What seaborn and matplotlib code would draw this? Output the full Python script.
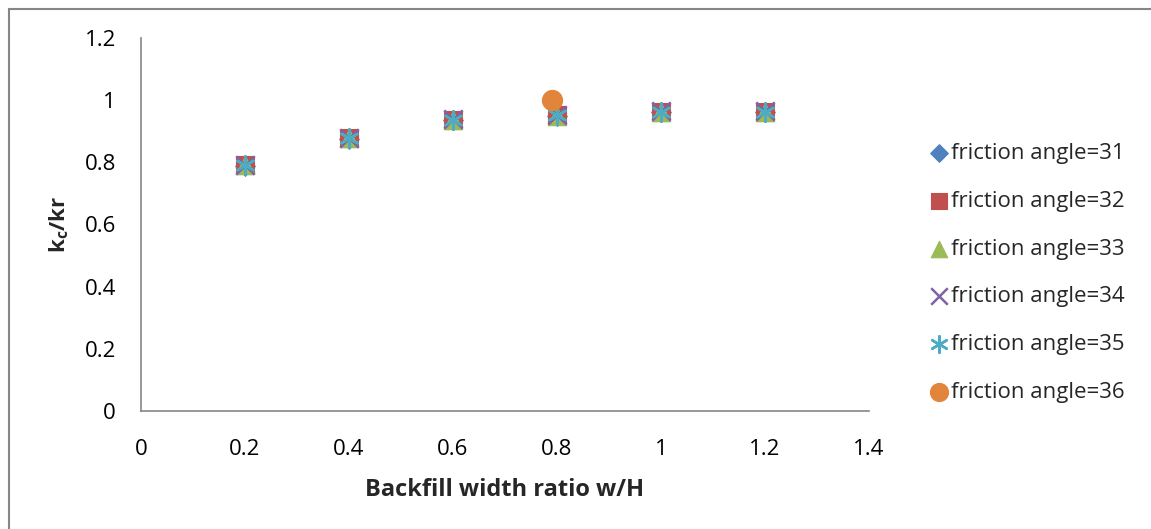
import numpy as np
import pandas as pd
import matplotlib
matplotlib.use('Agg')
import matplotlib.pyplot as plt
import seaborn as sns
from matplotlib.lines import Line2D

# --- Datos ---
w_ratio = [0.2, 0.4, 0.6, 0.8, 1.0, 1.2]
k31 = [0.788, 0.876, 0.936, 0.950, 0.962, 0.962]
k32 = [0.790, 0.878, 0.937, 0.951, 0.963, 0.963]
k33 = [0.790, 0.877, 0.936, 0.950, 0.962, 0.962]
k34 = [0.791, 0.879, 0.938, 0.952, 0.964, 0.964]
k35 = [0.790, 0.878, 0.937, 0.951, 0.962, 0.962]
w36 = [0.79]
k36 = [1.0]

labels = ['friction angle=31', 'friction angle=32', 'friction angle=33',
          'friction angle=34', 'friction angle=35', 'friction angle=36']
colors = ['#4F81BD', '#C0504D', '#9BBB59', '#8064A2', '#4BACC6', '#E2853A']

sns.set_style('white')
plt.rcParams['font.family'] = ['Open Sans', 'DejaVu Sans']
plt.rcParams['mathtext.fontset'] = 'custom'
plt.rcParams['mathtext.rm'] = 'Open Sans'
plt.rcParams['mathtext.bf'] = 'Open Sans:bold'

fig = plt.figure(figsize=(11.51, 5.29), dpi=100)
ax = fig.add_axes([0.1225, 0.2231, 0.6325, 0.7051])

series = [
    (w_ratio, k31, 'D', 100),
    (w_ratio, k32, 's', 175),
    (w_ratio, k33, '^', 175),
    (w_ratio, k34, 'x', 175),
    (w_ratio, k35, (6, 2, 0), 175),
    (w36, k36, 'o', 210),
]

for (xs, ys, mk, sz), lab, col in zip(series, labels, colors):
    df = pd.DataFrame({'w': xs, 'k': ys})
    if mk == 'x' or isinstance(mk, tuple):
        sns.scatterplot(data=df, x='w', y='k', marker=mk, s=sz, color=col,
                        linewidth=1.8, label=lab, ax=ax)
    else:
        sns.scatterplot(data=df, x='w', y='k', marker=mk, s=sz, color=col,
                        edgecolor=col, linewidth=0.8, label=lab, ax=ax)

ax.set_xlim(0, 1.4)
ax.set_ylim(0, 1.2)
ax.set_xticks(np.arange(0, 1.41, 0.2))
ax.set_yticks(np.arange(0, 1.21, 0.2))
ax.set_xticklabels(['0', '0.2', '0.4', '0.6', '0.8', '1', '1.2', '1.4'])
ax.set_yticklabels(['0', '0.2', '0.4', '0.6', '0.8', '1', '1.2'])

for s in ['top', 'right']:
    ax.spines[s].set_visible(False)
for s in ['left', 'bottom']:
    ax.spines[s].set_color('#868686')
    ax.spines[s].set_linewidth(1.2)
ax.tick_params(axis='both', direction='out', length=7, width=1.2,
               color='#868686', labelsize=16, labelcolor='black')
ax.tick_params(axis='y', pad=11)
ax.tick_params(axis='x', pad=13)

ax.set_xlabel('Backfill width ratio w/H', fontsize=17, fontweight='bold', labelpad=13)
ax.set_ylabel(r'k$_\mathbf{c}$/kr', fontsize=16, fontweight='bold', labelpad=10)

ax.legend(loc='center left', bbox_to_anchor=(0.799, 0.484), bbox_transform=fig.transFigure,
          frameon=False, fontsize=16, handlelength=0.7, handletextpad=0.2,
          labelspacing=1.2, borderpad=0, markerscale=0.9)

# borde del área del gráfico (solo arriba e izquierda visibles)
fig.add_artist(Line2D([8.5 / 1151, 8.5 / 1151], [0, 1 - 8.5 / 529],
                      transform=fig.transFigure, color='#868686', lw=1.5))
fig.add_artist(Line2D([8.5 / 1151, 1], [1 - 8.5 / 529, 1 - 8.5 / 529],
                      transform=fig.transFigure, color='#868686', lw=1.5))

fig.savefig('out.png', dpi=100)
